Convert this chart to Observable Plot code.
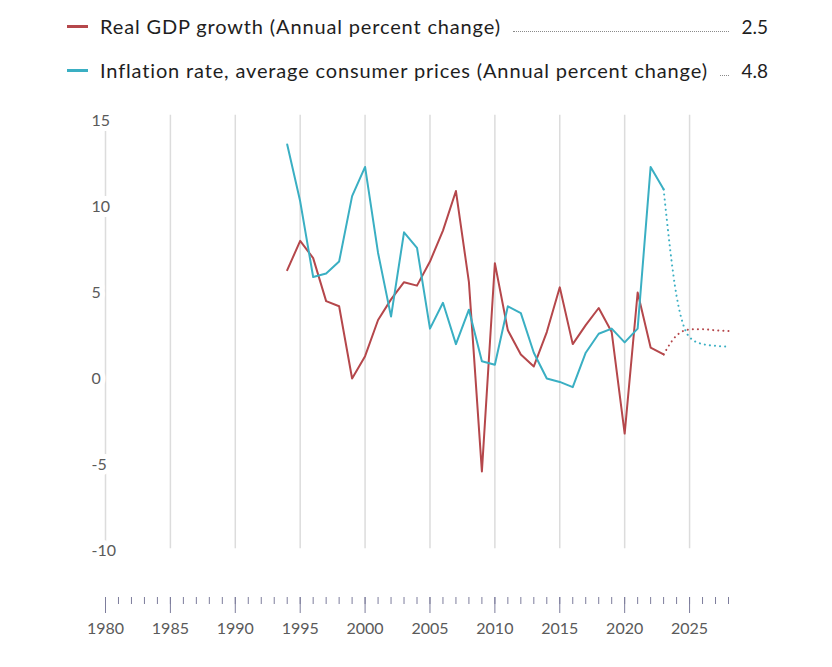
<!DOCTYPE html>
<html>
<head>
<meta charset="utf-8">
<script src="https://cdn.jsdelivr.net/npm/d3@7"></script>
<script src="https://cdn.jsdelivr.net/npm/@observablehq/plot@0.6"></script>
<style>
  body { margin: 0; background: #fff; font-family: Lato, "Open Sans", sans-serif; }
  #legend { position: relative; width: 832px; height: 100px; }
  .row { position: absolute; left: 67px; width: 701px; height: 28px; display: flex; align-items: center; color: #1e1e1e; font-size: 20px; }
  .sw { width: 21px; height: 3px; margin-right: 12px; flex: none; }
  .lab { flex: none; white-space: nowrap; letter-spacing: 0.85px; }
  .lead { flex: 1; border-bottom: 1px dotted #8a8a8a; margin: 0 12px; position: relative; top: 5px; }
  .val { flex: none; font-size: 19px; }
</style>
</head>
<body>
<div id="legend"></div>
<div id="chart"></div>
<script>
// ---- data ----
const years = d3.range(1994, 2024);
const gdp = [6.3, 8.0, 7.0, 4.5, 4.2, 0.0, 1.3, 3.4, 4.6, 5.6, 5.4, 6.8, 8.6, 10.9, 5.6, -5.4, 6.7, 2.8, 1.4, 0.7, 2.7, 5.3, 2.0, 3.1, 4.1, 2.7, -3.2, 5.0, 1.8, 1.4];
const inflation = [13.6, 10.3, 5.9, 6.1, 6.8, 10.6, 12.3, 7.3, 3.6, 8.5, 7.6, 2.9, 4.4, 2.0, 4.0, 1.0, 0.8, 4.2, 3.8, 1.5, 0.0, -0.2, -0.5, 1.5, 2.6, 2.9, 2.1, 2.9, 12.3, 11.0];
const projYears = [2023, 2024, 2025, 2026, 2027, 2028];
const gdpProj = [1.4, 2.5, 2.85, 2.87, 2.8, 2.76];
const inflationProj = [11.0, 4.8, 2.4, 2.0, 1.9, 1.85];
const seriesNames = ["Real GDP growth (Annual percent change)", "Inflation rate, average consumer prices (Annual percent change)"];
const legendValues = ["2.5", "4.8"];
const colors = ["#b5474b", "#3aafc3"];
const yTicks = [15, 10, 5, 0, -5, -10];
const majorYears = d3.range(1980, 2029, 5);
const allYears = d3.range(1980, 2029);

// ---- legend ----
const legend = document.getElementById("legend");
const rowTops = [12, 56];
seriesNames.forEach((name, i) => {
  const row = document.createElement("div");
  row.className = "row";
  row.style.top = rowTops[i] + "px";
  row.innerHTML = `<span class="sw" style="background:${colors[i]}"></span><span class="lab">${name}</span><span class="lead"></span><span class="val">${legendValues[i]}</span>`;
  legend.appendChild(row);
});

// ---- chart ----
const hist = years.map((y, i) => ({year: y, gdp: gdp[i], inf: inflation[i]}));
const proj = projYears.map((y, i) => ({year: y, gdp: gdpProj[i], inf: inflationProj[i]}));

const chart = Plot.plot({
  width: 832,
  height: 567,
  marginLeft: 105,
  marginRight: 104,
  marginTop: 15,
  marginBottom: 70,
  style: {fontFamily: "Lato, 'Open Sans', sans-serif", fontSize: "16px", color: "#555"},
  x: {domain: [1980, 2028], range: [105, 728], label: null},
  y: {domain: [-10, 15], range: [450, 20], axis: null},
  marks: [
    Plot.ruleX(majorYears, {x: d => d, y1: -9.9, y2: 15.3, stroke: "#dcdcdc", strokeWidth: 1.5}),
    Plot.text(yTicks, {y: d => d, text: d => String(d), frameAnchor: "left", dx: -14, textAnchor: "start", fill: "#5a5a5a", stroke: "white", strokeWidth: 10, fontSize: 16}),
    Plot.line(proj, {x: "year", y: "gdp", stroke: colors[0], strokeWidth: 2, strokeDasharray: "0.1 5", strokeLinecap: "round", curve: "monotone-x"}),
    Plot.line(proj, {x: "year", y: "inf", stroke: colors[1], strokeWidth: 2, strokeDasharray: "0.1 5", strokeLinecap: "round", curve: "monotone-x"}),
    Plot.line(hist, {x: "year", y: "gdp", stroke: colors[0], strokeWidth: 2}),
    Plot.line(hist, {x: "year", y: "inf", stroke: colors[1], strokeWidth: 2}),
    Plot.axisX({ticks: allYears, tickSize: 7, text: null, label: null, stroke: "#7d7d9c", strokeWidth: 1}),
    Plot.axisX({ticks: majorYears.filter(d => d <= 2025), tickSize: 16, tickPadding: 9, tickFormat: d => String(d), stroke: "#7d7d9c", strokeWidth: 1, fill: "#5a5a5a", fontSize: 16, label: null})
  ]
});
document.getElementById("chart").appendChild(chart);
</script>
</body>
</html>
